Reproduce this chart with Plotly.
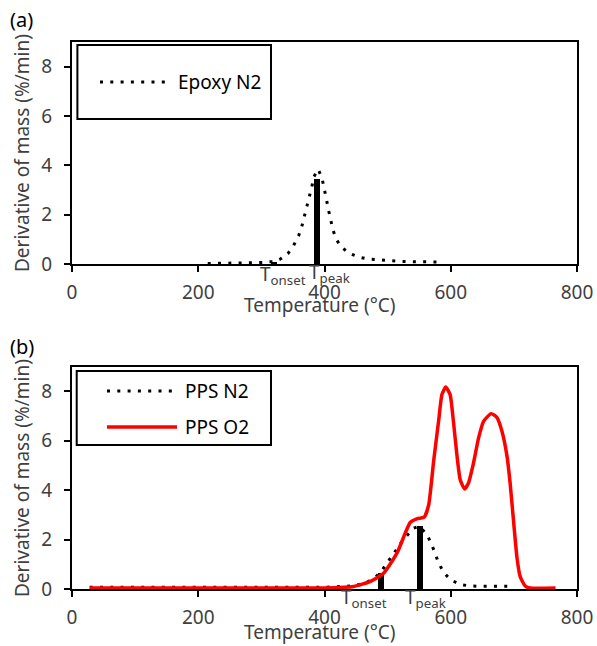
import plotly.graph_objects as go

# ---------------- data ----------------
epoxy_T = [215, 250, 280, 300, 313, 322, 330, 342, 351, 359, 364, 368, 373, 376, 380, 383,
           390, 396, 400, 403, 406, 409, 413, 418, 426, 439, 454, 469, 486, 502, 518, 550, 585]
epoxy_v = [0.02, 0.03, 0.04, 0.06, 0.09, 0.10, 0.20, 0.42, 0.75, 1.14, 1.52, 1.93, 2.32, 2.72, 3.14, 3.53,
           3.84, 3.49, 3.05, 2.63, 2.23, 1.83, 1.42, 1.03, 0.70, 0.44, 0.28, 0.20, 0.16, 0.12, 0.11, 0.09, 0.08]

ppsn2_T = [28, 100, 200, 300, 400, 434, 450, 467, 480, 490, 501, 511, 519, 529, 540, 550,
           562, 570, 576, 581, 589, 600, 615, 632, 648, 700]
ppsn2_v = [0.07, 0.07, 0.07, 0.07, 0.07, 0.11, 0.15, 0.27, 0.45, 0.72, 1.10, 1.48, 1.80, 2.13, 2.45, 2.54,
           2.22, 1.79, 1.40, 1.04, 0.66, 0.37, 0.18, 0.12, 0.11, 0.11]

ppso2_T = [28, 100, 200, 300, 399, 446, 473, 494, 515, 528, 536, 547, 558, 565, 573, 581, 586, 592,
           599, 604.5, 610, 615, 622, 628, 636, 644, 652, 664, 673, 681, 689, 694, 700, 705, 710, 718, 726, 766]
ppso2_v = [0.04, 0.04, 0.04, 0.04, 0.04, 0.10, 0.31, 0.65, 1.46, 2.27, 2.70, 2.85, 2.91, 3.40, 5.20, 6.85, 7.87, 8.18,
           7.87, 6.72, 5.37, 4.42, 4.05, 4.29, 5.10, 6.11, 6.79, 7.10, 6.95, 6.40, 5.40, 4.30, 2.60, 1.25, 0.50, 0.12, 0.04, 0.04]

# onset / peak markers (temperature, height)
epoxy_marks_T = [320, 388.6]
epoxy_marks_v = [0.10, 3.44]
pps_marks_T = [488.9, 551.3]
pps_marks_v = [0.67, 2.57]

x_ticks = [0, 200, 400, 600, 800]
y_ticks = [0, 2, 4, 6, 8]

FONT = "Noto Sans"
TXT = "#404040"

# ---------------- layout geometry ----------------
W, H = 597, 646
ML, MR, MT, MB = 72, 20, 42, 57
PW, PH = W - ML - MR, H - MT - MB


def px(x):
    return (x - ML) / PW


def py(y):
    return (H - MB - y) / PH


fig = go.Figure()

dot = "3px,7.3px"

fig.add_trace(go.Scatter(x=epoxy_T, y=epoxy_v, mode="lines", name="Epoxy N2",
                         line=dict(color="black", width=3, dash=dot),
                         xaxis="x", yaxis="y", showlegend=False))
fig.add_trace(go.Bar(x=epoxy_marks_T, y=epoxy_marks_v, width=9.5, marker=dict(color="black", line=dict(width=0)),
                     xaxis="x", yaxis="y", showlegend=False))

fig.add_trace(go.Scatter(x=ppsn2_T, y=ppsn2_v, mode="lines", name="PPS N2",
                         line=dict(color="black", width=3, dash=dot),
                         xaxis="x2", yaxis="y2", showlegend=False))
fig.add_trace(go.Bar(x=pps_marks_T, y=pps_marks_v, width=9.5, marker=dict(color="black", line=dict(width=0)),
                     xaxis="x2", yaxis="y2", showlegend=False))
fig.add_trace(go.Scatter(x=ppso2_T, y=ppso2_v, mode="lines", name="PPS O2",
                         line=dict(color="#ff0000", width=3.5, shape="spline", smoothing=0.5),
                         xaxis="x2", yaxis="y2", showlegend=False))

axis_common = dict(
    range=[0, 800], tickvals=x_ticks, showgrid=False, zeroline=False,
    showline=True, linecolor="black", linewidth=2, mirror=True,
    ticks="outside", ticklen=6, tickwidth=2, tickcolor="black",
    tickfont=dict(family=FONT, size=19, color=TXT), ticklabelstandoff=4, automargin=False,
)
yaxis_common = dict(
    range=[0, 9], tickvals=y_ticks, showgrid=False, zeroline=False,
    showline=True, linecolor="black", linewidth=2, mirror=True,
    ticks="outside", ticklen=6, tickwidth=2, tickcolor="black",
    tickfont=dict(family=FONT, size=19, color=TXT), ticklabelstandoff=8, automargin=False,
)

dom_a = [py(264), 1]
dom_b = [0, py(366.7)]

fig.update_layout(
    width=W, height=H, autosize=False,
    margin=dict(l=ML, r=MR, t=MT, b=MB, autoexpand=False),
    paper_bgcolor="white", plot_bgcolor="white",
    bargap=0,
    xaxis=dict(axis_common, domain=[0, 1], anchor="y"),
    yaxis=dict(yaxis_common, domain=dom_a, anchor="x"),
    xaxis2=dict(axis_common, domain=[0, 1], anchor="y2"),
    yaxis2=dict(yaxis_common, domain=dom_b, anchor="x2"),
    showlegend=False,
)

shapes = []
annots = []

# legend boxes
shapes.append(dict(type="rect", xref="paper", yref="paper", x0=px(77.4), x1=px(271), y0=py(119), y1=py(45),
                   line=dict(color="black", width=2), fillcolor="white", layer="below"))
shapes.append(dict(type="rect", xref="paper", yref="paper", x0=px(76.7), x1=px(271), y0=py(445), y1=py(371),
                   line=dict(color="black", width=2), fillcolor="white", layer="below"))
# legend samples
shapes.append(dict(type="line", xref="paper", yref="paper", x0=px(100), x1=px(166), y0=py(82), y1=py(82),
                   line=dict(color="black", width=3, dash=dot)))
shapes.append(dict(type="line", xref="paper", yref="paper", x0=px(107), x1=px(172), y0=py(391), y1=py(391),
                   line=dict(color="black", width=3, dash=dot)))
shapes.append(dict(type="line", xref="paper", yref="paper", x0=px(107), x1=px(177), y0=py(427), y1=py(427),
                   line=dict(color="#ff0000", width=3.5)))

leg_font = dict(family=FONT, size=19, color="black")
annots.append(dict(text="Epoxy N2", xref="paper", yref="paper", x=px(176), y=py(82),
                   xanchor="left", yanchor="middle", showarrow=False, font=leg_font))
annots.append(dict(text="PPS N2", xref="paper", yref="paper", x=px(183), y=py(391),
                   xanchor="left", yanchor="middle", showarrow=False, font=leg_font))
annots.append(dict(text="PPS O2", xref="paper", yref="paper", x=px(183), y=py(427),
                   xanchor="left", yanchor="middle", showarrow=False, font=leg_font))

# panel labels
annots.append(dict(text="(a)", xref="paper", yref="paper", x=px(8), y=py(20),
                   xanchor="left", yanchor="middle", showarrow=False, font=dict(family=FONT, size=20, color="black")))
annots.append(dict(text="(b)", xref="paper", yref="paper", x=px(8), y=py(347),
                   xanchor="left", yanchor="middle", showarrow=False, font=dict(family=FONT, size=20, color="black")))

# axis titles
tfont = dict(family=FONT, size=19, color=TXT)
for ycen in (305, 631.7):
    annots.append(dict(text="Temperature (°C)", xref="paper", yref="paper", x=px(320), y=py(ycen),
                       xanchor="center", yanchor="middle", showarrow=False, font=tfont))
for ycen in (153, 478):
    annots.append(dict(text="Derivative of mass (%/min)", xref="paper", yref="paper", x=px(22), y=py(ycen),
                       xanchor="center", yanchor="middle", textangle=-90, showarrow=False, font=tfont))

# T_onset / T_peak labels
tl_font = dict(family=FONT, size=19, color=TXT)
annots.append(dict(text="T<sub>onset</sub>", x=294, y=0, xref="x", yref="y", xanchor="left", yanchor="top",
                   showarrow=False, font=tl_font, yshift=5))
annots.append(dict(text="T<sub>peak</sub>", x=373, y=0, xref="x", yref="y", xanchor="left", yanchor="top",
                   showarrow=False, font=tl_font, yshift=7))
annots.append(dict(text="T<sub>onset</sub>", x=423, y=0, xref="x2", yref="y2", xanchor="left", yanchor="top",
                   showarrow=False, font=tl_font, yshift=7))
annots.append(dict(text="T<sub>peak</sub>", x=525, y=0, xref="x2", yref="y2", xanchor="left", yanchor="top",
                   showarrow=False, font=tl_font, yshift=7))

fig.update_layout(shapes=shapes, annotations=annots)

fig.write_html(
    "out.html",
    config={"displayModeBar": False, "responsive": False},
    post_script="document.body.style.margin='0';document.body.style.overflow='hidden';",
)
